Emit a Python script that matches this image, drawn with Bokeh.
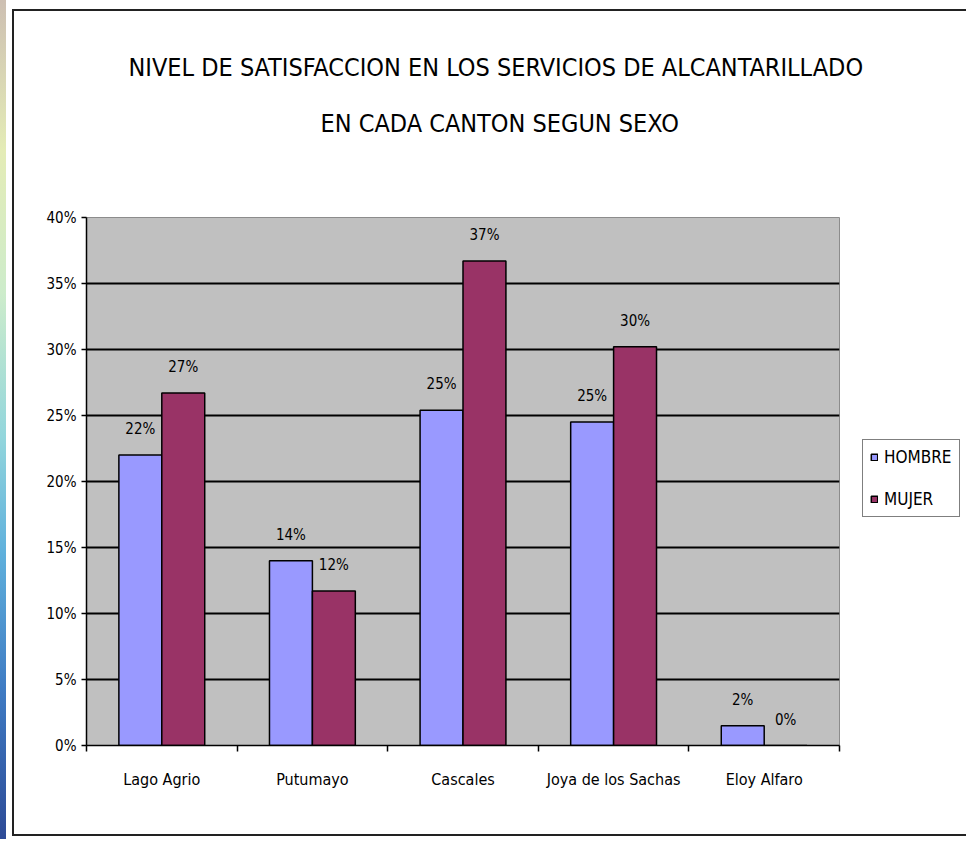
from bokeh.plotting import figure
from bokeh.models import (Range1d, FixedTicker, NumeralTickFormatter, Legend, LegendItem,
                          ColumnDataSource, Title)
from bokeh.core.properties import value
from bokeh.embed import file_html
from bokeh.resources import INLINE

# ---- data ----
cantones = ["Lago Agrio", "Putumayo", "Cascales", "Joya de los Sachas", "Eloy Alfaro"]
hombre = [0.220, 0.140, 0.254, 0.245, 0.015]
mujer = [0.267, 0.117, 0.367, 0.302, 0.000]
hombre_labels = ["22%", "14%", "25%", "25%", "2%"]
mujer_labels = ["27%", "12%", "37%", "30%", "0%"]
y_ticks = [0.0, 0.05, 0.10, 0.15, 0.20, 0.25, 0.30, 0.35, 0.40]
series_names = ["HOMBRE", "MUJER"]
title_lines = ["NIVEL DE SATISFACCION EN LOS SERVICIOS DE ALCANTARILLADO",
               "EN CADA CANTON SEGUN SEXO"]

FONT = "DejaVu Sans Condensed, Liberation Sans Narrow, Liberation Sans"
BAR_W = 0.285
n = len(cantones)
centers = [i + 0.5 for i in range(n)]
x_h = [c - BAR_W / 2 for c in centers]
x_m = [c + BAR_W / 2 for c in centers]

p = figure(output_backend="svg", toolbar_location=None, title=None,
           x_range=Range1d(0, n), y_range=Range1d(0, 0.40),
           frame_width=753, frame_height=528,
           min_border_left=72, min_border_top=206, min_border_bottom=89,
           min_border_right=127)
strip = ("linear-gradient(to bottom, #cdbfb2 0%, #e4ecb6 18%, #cdeccb 35%, "
         "#93d6dc 52%, #5fb0dc 66%, #3f7cc4 82%, #2d4a96 100%) 0 0 / 6px 100% no-repeat")
line = "linear-gradient(#222, #222)"
p.styles = {
    "padding-left": "14px",
    "padding-top": "11px",
    "padding-bottom": "5px",
    "background": ", ".join([
        strip,
        line + " 12px 9px / 2px calc(100% - 12px) no-repeat",
        line + " 12px 9px / 100% 2px no-repeat",
        line + " 12px calc(100% - 3px) / 100% 2px no-repeat",
        "white",
    ]),
}
p.background_fill_color = "#C0C0C0"
p.border_fill_color = "white"
p.outline_line_color = "#8c8c8c"

# titles: an empty spacer next to the plot, then the two title lines
spacer = Title(text=" ", text_font_size="1px", standoff=64, text_color="white")
t2 = Title(text=title_lines[1], align="left", offset=234, standoff=25,
           text_font=FONT, text_font_size="25px", text_font_style="normal",
           text_color="black")
t1 = Title(text=title_lines[0], align="left", offset=42, standoff=25,
           text_font=FONT, text_font_size="25px", text_font_style="normal",
           text_color="black")
p.add_layout(spacer, "above")
p.add_layout(t2, "above")
p.add_layout(t1, "above")

src_h = ColumnDataSource(dict(x=x_h, top=hombre, lab=hombre_labels))
src_m = ColumnDataSource(dict(x=x_m, top=mujer, lab=mujer_labels))

r_h = p.vbar(x="x", top="top", width=BAR_W, bottom=0, source=src_h,
             fill_color="#9999FF", line_color="black", line_width=1.5)
r_m = p.vbar(x="x", top="top", width=BAR_W, bottom=0, source=src_m,
             fill_color="#993366", line_color="black", line_width=1.5)

for src in (src_h, src_m):
    p.text(x="x", y="top", text="lab", source=src, text_align="center",
           text_baseline="bottom", y_offset=-17, text_font=value(FONT),
           text_font_size="15px", text_color="black")

# grid
p.xgrid.grid_line_color = None
p.ygrid.ticker = FixedTicker(ticks=y_ticks)
p.ygrid.grid_line_color = "black"
p.ygrid.grid_line_width = 2

# y axis
p.yaxis.ticker = FixedTicker(ticks=y_ticks)
p.yaxis.formatter = NumeralTickFormatter(format="0%")
p.yaxis.axis_line_color = "black"
p.yaxis.axis_line_width = 1.5
p.yaxis.major_tick_line_color = "black"
p.yaxis.major_tick_line_width = 1.5
p.yaxis.major_tick_out = 5
p.yaxis.major_tick_in = 0
p.yaxis.minor_tick_line_color = None
p.yaxis.major_label_text_font = FONT
p.yaxis.major_label_text_font_size = "15px"
p.yaxis.major_label_text_color = "black"
p.yaxis.major_label_standoff = 5

# x axis: labels at category centres, ticks at category boundaries (minor ticks)
p.xaxis.ticker = FixedTicker(ticks=centers, minor_ticks=list(range(n + 1)))
p.xaxis.major_label_overrides = {c: name for c, name in zip(centers, cantones)}
p.xaxis.major_tick_line_color = None
p.xaxis.minor_tick_line_color = "black"
p.xaxis.minor_tick_line_width = 1.5
p.xaxis.minor_tick_out = 6
p.xaxis.minor_tick_in = 0
p.xaxis.axis_line_color = "black"
p.xaxis.axis_line_width = 1.5
p.xaxis.major_label_text_font = FONT
p.xaxis.major_label_text_font_size = "16px"
p.xaxis.major_label_text_color = "black"
p.xaxis.major_label_standoff = 18

legend = Legend(items=[LegendItem(label=series_names[0], renderers=[r_h]),
                       LegendItem(label=series_names[1], renderers=[r_m])],
                location=(23, 228), margin=0, padding=7, spacing=22,
                glyph_width=8, glyph_height=8, label_standoff=6,
                label_text_font=FONT, label_text_font_size="17px",
                label_text_color="black", border_line_color="black",
                border_line_width=1.5, background_fill_color="white",
                background_fill_alpha=1.0)
p.add_layout(legend, "right")

open("out.html", "w").write(file_html(p, INLINE))
